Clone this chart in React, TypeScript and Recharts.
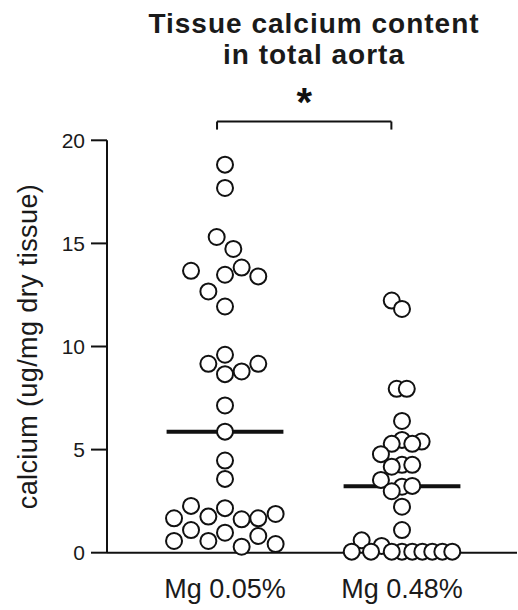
import React from 'react';
import { ScatterChart, Scatter, XAxis, YAxis, ReferenceLine, Label } from 'recharts';

const groups = ['Mg 0.05%', 'Mg 0.48%'];
const yTicks = [0, 5, 10, 15, 20];

// calcium values, Mg 0.05% group
const lowMgValues = [
    18.82, 17.69, 15.31, 14.73, 13.67, 13.48, 13.83, 13.4, 12.67, 11.94,
    9.6, 9.16, 9.16, 8.66, 8.79, 7.14, 5.87, 4.47, 3.58,
    2.27, 2.16, 1.67, 1.75, 1.62, 1.67, 1.88,
    1.1, 0.97, 0.57, 0.57, 0.29, 0.81, 0.42,
];
// horizontal spread of each dot in the swarm (in group units)
const lowMgJitter = [
    0, 0, -0.047, 0.047, -0.192, 0, 0.094, 0.188, -0.094, 0,
    0, -0.094, 0.188, 0, 0.094, 0, 0, 0, 0,
    -0.192, 0, -0.288, -0.094, 0.094, 0.188, 0.286,
    -0.192, 0, -0.288, -0.094, 0.094, 0.188, 0.286,
];

// Mg 0.48% group
const highMgValues = [
    12.23, 11.82, 7.95, 7.95, 6.39,
    5.47, 4.26, 3.2, 2.23, 1.1,
    5.39, 5.28, 5.28, 4.78, 4.26, 4.17, 3.53, 3.24, 2.98,
    0.05, 0.6, 0.33, 0.05, 0.05, 0.05, 0.05, 0.05, 0.05, 0.05, 0.05,
];
const highMgJitter = [
    -0.058, 0, -0.03, 0.027, 0,
    0, 0, 0, 0, 0,
    0.111, -0.058, 0.058, -0.119, 0.058, -0.058, -0.119, 0.058, -0.058,
    0, -0.228, -0.115, -0.284, -0.175, -0.058, 0.058, 0.115, 0.171, 0.228, 0.284,
];

const median = (arr: number[]) => {
    const s = [...arr].sort((a, b) => a - b);
    const m = Math.floor(s.length / 2);
    return s.length % 2 ? s[m] : (s[m - 1] + s[m]) / 2;
};

const toPoints = (values: number[], jitter: number[], group: number) =>
    values.map((v, i) => ({ x: group + jitter[i], y: v }));

const medianHalfWidth = 0.33;
const medianSegment = (values: number[], group: number) => {
    const m = median(values);
    return [
        { x: group - medianHalfWidth, y: m },
        { x: group + medianHalfWidth, y: m },
    ];
};

const ink = '#111';

const Dot = (props: any) => (
    <circle cx={props.cx} cy={props.cy} r={8} fill="#fff" stroke={ink} strokeWidth={2} />
);

const NoShape = () => <g />;

const YLabel = (props: any) => {
    const vb = props.viewBox || { y: 140, height: 412 };
    const cx = 28;
    const cy = vb.y + vb.height / 2;
    return (
        <text
            x={cx}
            y={cy}
            transform={`rotate(-90, ${cx}, ${cy})`}
            textAnchor="middle"
            dominantBaseline="central"
            fontSize={27}
            letterSpacing={0.4}
            fill="#1a1a1a"
        >
            calcium (ug/mg dry tissue)
        </text>
    );
};

export default function App() {
    const lowPoints = toPoints(lowMgValues, lowMgJitter, 1);
    const highPoints = toPoints(highMgValues, highMgJitter, 2);

    return (
        <div
            style={{
                position: 'absolute',
                left: 0,
                top: 0,
                width: 518,
                height: 610,
                background: '#fff',
                fontFamily: '"Liberation Sans", Arial, sans-serif',
            }}
        >
            <div
                style={{
                    position: 'absolute',
                    left: 114,
                    top: 8,
                    width: 400,
                    textAlign: 'center',
                    fontSize: 28,
                    fontWeight: 700,
                    lineHeight: '31px',
                    letterSpacing: 1,
                    color: '#1a1a1a',
                }}
            >
                Tissue calcium content
                <br />
                in total aorta
            </div>
            <ScatterChart width={518} height={610} margin={{ top: 140.3, right: 1, bottom: 0, left: 0 }}>
                <XAxis
                    type="number"
                    dataKey="x"
                    domain={[0.3333, 2.6497]}
                    ticks={[1, 2]}
                    interval={0}
                    tickFormatter={(v) => groups[Math.round(v) - 1]}
                    tickLine={false}
                    tickSize={0}
                    tickMargin={26}
                    height={57.3}
                    axisLine={{ stroke: ink, strokeWidth: 2 }}
                    tick={{ fontSize: 27, fill: '#1a1a1a' }}
                />
                <YAxis
                    type="number"
                    dataKey="y"
                    domain={[0, 20]}
                    ticks={yTicks}
                    interval={0}
                    width={107}
                    tickSize={16}
                    tickMargin={6}
                    axisLine={{ stroke: ink, strokeWidth: 2 }}
                    tickLine={{ stroke: ink, strokeWidth: 2 }}
                    tick={{ fontSize: 21, fill: '#1a1a1a' }}
                >
                    <Label content={<YLabel />} />
                </YAxis>

                {/* significance bracket */}
                <ReferenceLine segment={[{ x: 0.955, y: 20.52 }, { x: 0.955, y: 20.91 }]} stroke={ink} strokeWidth={2} ifOverflow="visible" />
                <ReferenceLine segment={[{ x: 1.94, y: 20.52 }, { x: 1.94, y: 20.91 }]} stroke={ink} strokeWidth={2} ifOverflow="visible" />
                <ReferenceLine
                    segment={[{ x: 0.955, y: 20.91 }, { x: 1.94, y: 20.91 }]}
                    stroke={ink}
                    strokeWidth={2}
                    ifOverflow="visible"
                    label={{ value: '*', position: 'top', offset: 6, fontSize: 40, fontWeight: 700, fill: ink }}
                />

                {/* medians */}
                <Scatter data={medianSegment(lowMgValues, 1)} line={{ stroke: ink, strokeWidth: 4 }} shape={NoShape} isAnimationActive={false} />
                <Scatter data={medianSegment(highMgValues, 2)} line={{ stroke: ink, strokeWidth: 4 }} shape={NoShape} isAnimationActive={false} />

                <Scatter data={lowPoints} shape={Dot} isAnimationActive={false} />
                <Scatter data={highPoints} shape={Dot} isAnimationActive={false} />
            </ScatterChart>
        </div>
    );
}
